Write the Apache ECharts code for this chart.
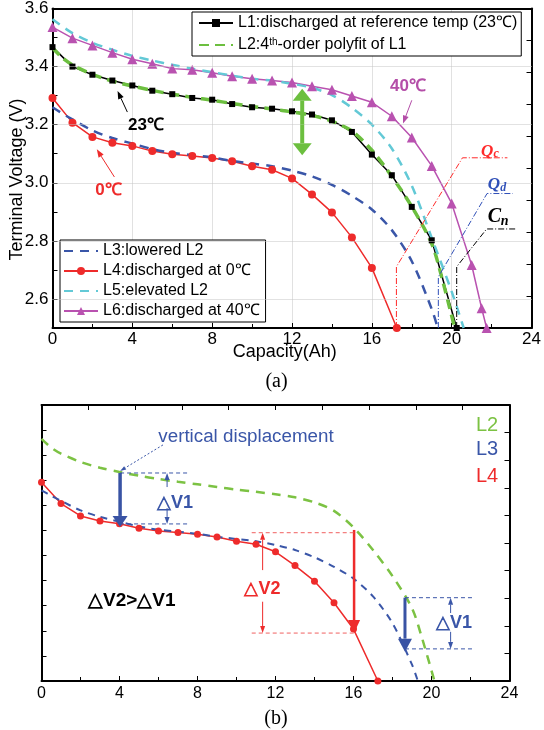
<!DOCTYPE html>
<html><head><meta charset="utf-8">
<script src="https://cdn.jsdelivr.net/npm/echarts@6/dist/echarts.min.js"></script>
<style>html,body{margin:0;padding:0;background:#fff}#c{width:544px;height:730px}</style>
</head><body><div id="c"></div>
<script>
// ---------------- data ----------------
const yTickLabels = ['2.6','2.8','3.0','3.2','3.4','3.6'];
const yGridValues = [2.6, 2.8, 3.0, 3.2, 3.4];

const N1 = 'L1:discharged at reference temp (23℃)';
const N2 = 'L2:4th-order polyfit of L1';
const N3 = 'L3:lowered L2';
const N4 = 'L4:discharged at 0℃';
const N5 = 'L5:elevated L2';
const N6 = 'L6:discharged at 40℃';

const l1X = [0,1,2,3,4,5,6,7,8,9,10,11,12,13,14,15,16,17,18,19,20.25];
const l1V = [3.467,3.400,3.372,3.352,3.335,3.317,3.305,3.292,3.286,3.271,3.260,3.255,3.246,3.235,3.215,3.175,3.097,3.026,2.917,2.802,2.500];

const l2X = [0,0.5,1,2,3,4,5,6,7,8,9,10,11,12,13,14,15,16,17,18,19,19.5,20.15];
const l2V = [3.465,3.430,3.406,3.373,3.350,3.333,3.318,3.305,3.294,3.284,3.273,3.263,3.254,3.244,3.232,3.212,3.178,3.112,3.022,2.918,2.790,2.675,2.500];

const l3X = [0,0.5,1,2,3,4,5,6,7,8,9,10,11,12,13,14,15,16,17,18,19,19.3];
const l3V = [3.260,3.238,3.218,3.180,3.154,3.135,3.116,3.103,3.095,3.087,3.075,3.066,3.057,3.042,3.022,2.993,2.955,2.908,2.837,2.730,2.565,2.500];

const l4X = [0,1,2,3,4,5,6,7,8,9,10,11,12,13,14,15,16,17.25];
const l4V = [3.292,3.207,3.158,3.138,3.127,3.109,3.098,3.092,3.085,3.074,3.057,3.045,3.015,2.960,2.898,2.812,2.707,2.500];

const l5X = [0,1,2,3,4,5,6,7,8,9,10,11,12,13,14,15,16,17,18,19,20,20.6];
const l5V = [3.563,3.515,3.482,3.458,3.437,3.421,3.406,3.393,3.381,3.369,3.358,3.352,3.341,3.327,3.302,3.258,3.200,3.118,2.990,2.810,2.625,2.500];

const l6X = [0,1,2,3,4,5,6,7,8,9,10,11,12,13,14,15,16,17,18,19,20,21,21.5,21.75];
const l6V = [3.536,3.498,3.473,3.448,3.425,3.410,3.393,3.389,3.379,3.367,3.358,3.352,3.345,3.332,3.320,3.299,3.277,3.229,3.156,3.058,2.929,2.717,2.568,2.500];

// ---------------- styles ----------------
const FONT = '"Liberation Sans", Arial, sans-serif';
const SERIF = '"Liberation Serif", "Times New Roman", serif';
const C1 = '#000000', C2 = '#6cbf3f', C3 = '#3a56a8', C4 = '#ee2b2b', C5 = '#63c9d6', C6 = '#b952b0';
const GRID = '#c4c4c4';

const pairs = (xs, vs) => xs.map((x, i) => [x, vs[i]]);

const chart = echarts.init(document.getElementById('c'), null, {renderer: 'canvas'});

const axLine = {show: true, onZero: false, lineStyle: {color: '#000', width: 2}};
function xAx(grid, pos, opts) {
  return Object.assign({
    type: 'value', gridIndex: grid, position: pos, min: 0, max: 24, interval: 4,
    axisLine: axLine, axisTick: {show: true, inside: true, length: 5, lineStyle: {color: '#000', width: 1}},
    axisLabel: {show: false}, splitLine: {show: false}
  }, opts);
}
function yAx(grid, pos, opts) {
  return Object.assign({
    type: 'value', gridIndex: grid, position: pos, min: 2.5, max: 3.6, interval: 0.1,
    axisLine: axLine, axisTick: {show: true, inside: true, length: 5, lineStyle: {color: '#000', width: 1}},
    axisLabel: {show: false}, splitLine: {show: false}
  }, opts);
}
const noSym = name => ({name: name, itemStyle: {opacity: 0}});

const option = {
  animation: false,
  backgroundColor: '#fff',
  grid: [
    {left: 52.5, right: 7, top: 8, bottom: 402},
    {left: 41.5, right: 34.5, top: 405, bottom: 49}
  ],
  xAxis: [
    xAx(0, 'bottom', {
      minorTick: {show: true, splitNumber: 2, length: 4, lineStyle: {color: '#000'}},
      axisLabel: {show: true, fontSize: 17, color: '#000', fontFamily: FONT, margin: 3},
      splitLine: {show: true, lineStyle: {color: GRID, type: 'dotted', width: 1}}
    }),
    xAx(0, 'top', {axisTick: {show: false}}),
    xAx(1, 'bottom', {
      minorTick: {show: true, splitNumber: 2, length: 4, lineStyle: {color: '#000'}},
      axisLabel: {show: true, fontSize: 16, color: '#000', fontFamily: FONT, margin: 5}
    }),
    xAx(1, 'top', {interval: 2.4})
  ],
  yAxis: [
    yAx(0, 'left', {
      axisLabel: {show: true, fontSize: 17, color: '#000', fontFamily: FONT, margin: 4,
        formatter: v => yTickLabels.indexOf(v.toFixed(1)) >= 0 ? v.toFixed(1) : ''}
    }),
    yAx(0, 'right', {min: 0, max: 10, interval: 1}),
    yAx(1, 'left', {}),
    yAx(1, 'right', {min: 0, max: 10, interval: 1})
  ],
  legend: [
    {
      selectedMode: false, orient: 'vertical', left: 192, top: 12,
      data: [N1, noSym(N2)], itemWidth: 34, itemHeight: 10, itemGap: 6,
      padding: [3, 4, 3, 6], borderColor: '#000', borderWidth: 1, backgroundColor: '#fff',
      textStyle: {fontSize: 16, fontFamily: FONT, color: '#000', lineHeight: 16,
        rich: {s: {fontSize: 10, fontFamily: FONT, color: '#000', verticalAlign: 'top', lineHeight: 10}}},
      formatter: n => n === N2 ? 'L2:4{s|th}-order polyfit of L1' : n
    },
    {
      selectedMode: false, orient: 'vertical', left: 60, top: 240,
      data: [noSym(N3), N4, noSym(N5), N6], itemWidth: 34, itemHeight: 10, itemGap: 4,
      padding: [3, 6, 3, 3], borderColor: '#000', borderWidth: 1, backgroundColor: '#fff',
      textStyle: {fontSize: 16, fontFamily: FONT, color: '#000', lineHeight: 16}
    }
  ],
  series: [
    {type: 'line', name: 'grid', xAxisIndex: 0, yAxisIndex: 0, data: [], silent: true, z: 1,
     markLine: {silent: true, symbol: 'none', label: {show: false}, animation: false,
       lineStyle: {color: GRID, type: 'dotted', width: 1},
       data: yGridValues.map(v => ({yAxis: v}))}},
    {type: 'line', name: N1, xAxisIndex: 0, yAxisIndex: 0, data: pairs(l1X, l1V),
     color: C1, lineStyle: {width: 1.5, color: C1}, symbol: 'rect', symbolSize: 6, showAllSymbol: true,
     itemStyle: {color: C1}},
    {type: 'line', name: N2, xAxisIndex: 0, yAxisIndex: 0, data: pairs(l2X, l2V), smooth: 0.3,
     color: C2, lineStyle: {width: 3.5, color: C2, type: [10, 6]}, symbol: 'none'},
    {type: 'line', name: N4, xAxisIndex: 0, yAxisIndex: 0, data: pairs(l4X, l4V),
     color: C4, lineStyle: {width: 1.5, color: C4}, symbol: 'circle', symbolSize: 8, showAllSymbol: true,
     itemStyle: {color: C4}},
    {type: 'line', name: N3, xAxisIndex: 0, yAxisIndex: 0, data: pairs(l3X, l3V), smooth: 0.3,
     color: C3, lineStyle: {width: 2.5, color: C3, type: [9, 7]}, symbol: 'none'},
    {type: 'line', name: N6, xAxisIndex: 0, yAxisIndex: 0, data: pairs(l6X, l6V),
     color: C6, lineStyle: {width: 1.5, color: C6}, symbol: 'triangle', symbolSize: 10, showAllSymbol: true,
     itemStyle: {color: C6}},
    {type: 'line', name: N5, xAxisIndex: 0, yAxisIndex: 0, data: pairs(l5X, l5V), smooth: 0.3,
     color: C5, lineStyle: {width: 2.5, color: C5, type: [9, 7]}, symbol: 'none'},
    // panel (b)
    {type: 'line', name: 'b-L2', xAxisIndex: 2, yAxisIndex: 2, data: pairs(l2X, l2V), smooth: 0.3,
     color: C2, lineStyle: {width: 2.5, color: '#7cc243', type: [9, 7]}, symbol: 'none'},
    {type: 'line', name: 'b-L4', xAxisIndex: 2, yAxisIndex: 2, data: pairs(l4X, l4V),
     color: C4, lineStyle: {width: 1.5, color: C4}, symbol: 'circle', symbolSize: 7, showAllSymbol: true,
     itemStyle: {color: C4}},
    {type: 'line', name: 'b-L3', xAxisIndex: 2, yAxisIndex: 2, data: pairs(l3X, l3V), smooth: 0.3,
     color: C3, lineStyle: {width: 2, color: C3, type: [7, 6]}, symbol: 'none'}
  ]
};
chart.setOption(option);

// ---------------- annotations (positioned in data units) ----------------
function P(g, x, v) {
  return chart.convertToPixel(g === 0 ? {xAxisIndex: 0, yAxisIndex: 0} : {xAxisIndex: 2, yAxisIndex: 2}, [x, v]);
}
const els = [];
function poly(pts, stroke, w, dash) {
  els.push({type: 'polyline', silent: true, z: 100, shape: {points: pts},
    style: {stroke: stroke, lineWidth: w, lineDash: dash || null, fill: null}});
}
function arrow(g, a, b, color, w, len, wid, dash) {
  const p0 = P(g, a[0], a[1]), p1 = P(g, b[0], b[1]);
  const dx = p1[0] - p0[0], dy = p1[1] - p0[1], L = Math.hypot(dx, dy);
  const ux = dx / L, uy = dy / L;
  const base = [p1[0] - ux * len, p1[1] - uy * len];
  poly([p0, base], color, w, dash);
  const nx = -uy * wid / 2, ny = ux * wid / 2;
  els.push({type: 'polygon', silent: true, z: 101,
    shape: {points: [p1, [base[0] + nx, base[1] + ny], [base[0] - nx, base[1] - ny]]},
    style: {fill: color, stroke: null}});
}
function dline(g, pts, color, w, dash) { poly(pts.map(p => P(g, p[0], p[1])), color, w, dash); }
function text(g, pos, str, font, fill, align, dx, dy) {
  const p = P(g, pos[0], pos[1]);
  els.push({type: 'text', silent: true, z: 102, x: p[0] + (dx || 0), y: p[1] + (dy || 0),
    style: {text: str, font: font, fill: fill, textAlign: align || 'center',
      textVerticalAlign: 'middle', verticalAlign: 'middle'}});
}

// panel (a)
text(0, [4.68, 3.198], '23℃', 'bold 17px ' + FONT, '#000');
arrow(0, [3.75, 3.2435], [3.26, 3.316], '#000', 1, 8, 6);
text(0, [2.80, 2.974], '0℃', 'bold 17px ' + FONT, C4);
arrow(0, [3.10, 3.020], [2.22, 3.115], C4, 1, 8, 6);
text(0, [17.81, 3.332], '40℃', 'bold 17px ' + FONT, '#b44ea8');
arrow(0, [18.0, 3.284], [17.56, 3.204], '#b44ea8', 1, 8, 6);
arrow(0, [12.51, 3.20], [12.51, 3.324], C2, 4, 12, 19);
arrow(0, [12.51, 3.20], [12.51, 3.095], C2, 4, 12, 19);
dline(0, [[17.23, 2.5], [17.23, 2.711], [20.54, 3.086], [22.79, 3.086]], '#ff2a2a', 1, [6, 2, 1, 2]);
dline(0, [[19.33, 2.5], [19.33, 2.676], [21.77, 2.963], [23.06, 2.963]], '#3050b8', 1, [6, 2, 1, 2]);
dline(0, [[20.25, 2.5], [20.25, 2.711], [21.75, 2.841], [23.19, 2.841]], '#000', 1, [6, 2, 1, 2]);
text(0, [21.47, 3.108], 'Q', 'italic bold 17px ' + SERIF, '#ff2a2a', 'left');
text(0, [21.47, 3.108], 'c', 'italic bold 12px ' + SERIF, '#ff2a2a', 'left', 12.5, 3);
text(0, [21.80, 2.992], 'Q', 'italic bold 17px ' + SERIF, '#3050b8', 'left');
text(0, [21.80, 2.992], 'd', 'italic bold 12px ' + SERIF, '#3050b8', 'left', 12.5, 3);
text(0, [21.80, 2.882], 'C', 'italic bold 20px ' + SERIF, '#000', 'left');
text(0, [21.80, 2.882], 'n', 'italic bold 14px ' + SERIF, '#000', 'left', 13, 4);

// panel (b)
text(1, [22.85, 3.520], 'L2', '20px ' + FONT, '#7cc243');
text(1, [22.85, 3.421], 'L3', '20px ' + FONT, C3);
text(1, [22.85, 3.317], 'L4', '20px ' + FONT, C4);
text(1, [5.99, 3.472], 'vertical displacement', '18.8px ' + FONT, C3, 'left');
arrow(1, [6.23, 3.441], [4.03, 3.337], C3, 1, 6, 4, [2, 2]);
arrow(1, [4.03, 3.329], [4.03, 3.114], '#3953a4', 3.5, 11, 15);
dline(1, [[4.03, 3.329], [7.53, 3.329]], C3, 1, [4, 3]);
dline(1, [[4.03, 3.126], [7.53, 3.126]], C3, 1, [4, 3]);
arrow(1, [6.44, 3.273], [6.44, 3.329], C3, 1, 7, 5);
arrow(1, [6.44, 3.189], [6.44, 3.126], C3, 1, 7, 5);
text(1, [6.85, 3.211], '△V1', 'bold 18px ' + FONT, C3);

arrow(1, [16.03, 3.102], [16.03, 2.691], C4, 2.5, 13, 12);
dline(1, [[10.78, 3.091], [16.03, 3.091]], '#f06060', 1, [4, 3]);
dline(1, [[10.78, 2.691], [16.03, 2.691]], '#f06060', 1, [4, 3]);
arrow(1, [11.34, 2.942], [11.34, 3.091], C4, 1, 7, 5);
arrow(1, [11.34, 2.816], [11.34, 2.691], C4, 1, 7, 5);
text(1, [11.33, 2.867], '△V2', 'bold 18px ' + FONT, C4);

arrow(1, [18.64, 2.832], [18.64, 2.617], '#3953a4', 3, 13, 14);
dline(1, [[18.64, 2.832], [22.23, 2.832]], C3, 1, [4, 3]);
dline(1, [[18.64, 2.628], [22.23, 2.628]], C3, 1, [4, 3]);
arrow(1, [20.98, 2.771], [20.98, 2.832], C3, 1, 7, 5);
arrow(1, [20.98, 2.696], [20.98, 2.628], C3, 1, 7, 5);
text(1, [21.15, 2.730], '△V1', 'bold 18px ' + FONT, C3);

text(1, [4.63, 2.82], '△V2>△V1', 'bold 19px ' + FONT, '#000');

// axis titles and panel captions
els.push({type: 'text', silent: true, z: 102, x: 17.5, y: 179.5, rotation: Math.PI / 2,
  style: {text: 'Terminal Voltage (V)', font: '18px ' + FONT, fill: '#000', textAlign: 'center',
    textVerticalAlign: 'middle', verticalAlign: 'middle'}});
els.push({type: 'text', silent: true, z: 102, x: 284.7, y: 351.7,
  style: {text: 'Capacity(Ah)', font: '18px ' + FONT, fill: '#000', textAlign: 'center',
    textVerticalAlign: 'middle', verticalAlign: 'middle'}});
els.push({type: 'text', silent: true, z: 102, x: 276.5, y: 382,
  style: {text: '(a)', font: '20px ' + SERIF, fill: '#000', textAlign: 'center',
    textVerticalAlign: 'middle', verticalAlign: 'middle'}});
els.push({type: 'text', silent: true, z: 102, x: 276, y: 719,
  style: {text: '(b)', font: '20px ' + SERIF, fill: '#000', textAlign: 'center',
    textVerticalAlign: 'middle', verticalAlign: 'middle'}});

chart.setOption({graphic: {elements: els}});
</script>
</body></html>
